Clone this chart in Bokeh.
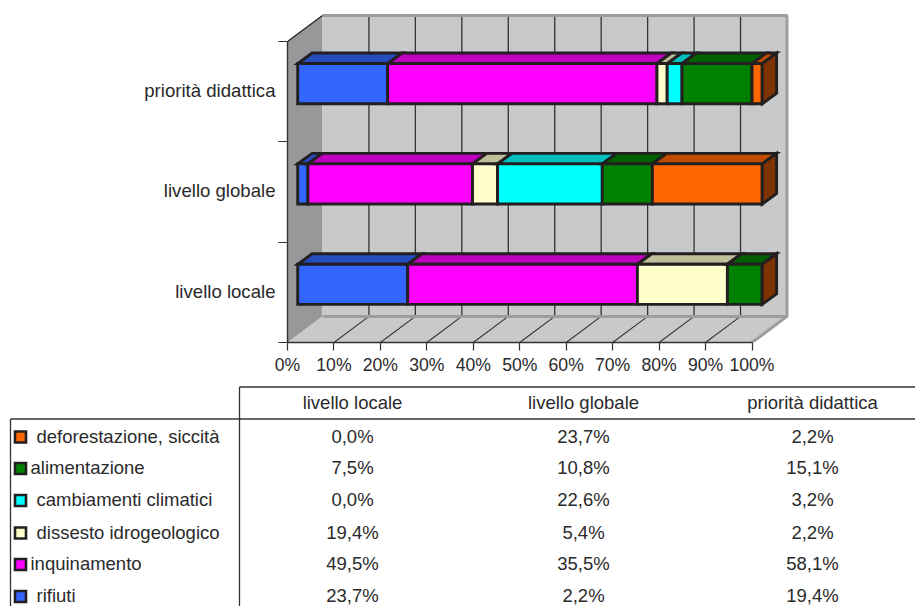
from bokeh.embed import file_html
from bokeh.resources import INLINE
from bokeh.layouts import column
from bokeh.models import FixedTicker, Range1d
from bokeh.plotting import figure
from bokeh.core.properties import value

# Survey shares per theme, in percent
groups = ["livello locale", "livello globale", "priorità didattica"]
rifiuti = [23.7, 2.2, 19.4]
inquinamento = [49.5, 35.5, 58.1]
dissesto = [19.4, 5.4, 2.2]
cambiamenti = [0.0, 22.6, 3.2]
alimentazione = [7.5, 10.8, 15.1]
deforestazione = [0.0, 23.7, 2.2]

# Stacking order of the bars, left to right
themes = ["rifiuti", "inquinamento", "dissesto idrogeologico",
          "cambiamenti climatici", "alimentazione", "deforestazione, siccità"]
series = [rifiuti, inquinamento, dissesto, cambiamenti, alimentazione, deforestazione]
front_colors = ["#3366FF", "#FF00FF", "#FFFFCC", "#00FFFF", "#008000", "#FF6600"]
top_colors = ["#264DBF", "#BF00BF", "#BFBF99", "#00BFBF", "#006000", "#BF4C00"]
side_color = "#7F3300"

x_ticks = list(range(0, 101, 10))
x_labels = {t: f"{t}%" for t in x_ticks}

FONT = "Liberation Sans"
INK = "#2A2A2A"
EDGE = "#231F20"
WALL = "#C8C9CB"
WALL_DARK = "#97989A"
WALL_EDGE = "#9C9D9F"
BAR_LINE = 2.9

# Oblique projection, in data units of the chart
WALL_DX, WALL_DY = 7.53, 0.26
BAR_SHIFT_X, BAR_SHIFT_Y = 2.2, 0.08
BAR_DX, BAR_DY = 3.1, 0.105
BAR_HALF = 0.2

PX_X = 464.5 / 100
PX_Y = 301 / 3

p = figure(width=915, height=380, output_backend="svg", toolbar_location=None,
           x_range=Range1d(0, 628 / PX_X), y_range=Range1d(0, 342 / PX_Y),
           min_border_left=287, min_border_right=0, min_border_top=0, min_border_bottom=38,
           outline_line_color=None, background_fill_color="white", border_fill_color="white",
           frame_align=False)
p.grid.visible = False

# Walls and floor of the box
n = len(groups)
p.patch([0, WALL_DX, WALL_DX, 0], [0, WALL_DY, n + WALL_DY, n], fill_color=WALL_DARK, line_color=None)
p.patch([WALL_DX, 100 + WALL_DX, 100 + WALL_DX, WALL_DX],
        [WALL_DY, WALL_DY, n + WALL_DY, n + WALL_DY], fill_color=WALL, line_color=None)
p.patch([0, 100, 100 + WALL_DX, WALL_DX], [0, 0, WALL_DY, WALL_DY], fill_color=WALL, line_color=None)

inner = [t for t in x_ticks if 0 < t < 100]
p.multi_line([[t + WALL_DX, t + WALL_DX] for t in inner],
             [[WALL_DY, n + WALL_DY] for _ in inner], line_color="#333333", line_width=1.3)
p.multi_line([[t, t + WALL_DX] for t in inner],
             [[0, WALL_DY] for _ in inner], line_color="#333333", line_width=1.1)
p.line([100, 100 + WALL_DX, 100 + WALL_DX, WALL_DX],
       [0, WALL_DY, n + WALL_DY, n + WALL_DY], line_color=WALL_EDGE, line_width=3)
p.line([WALL_DX, 100 + WALL_DX], [WALL_DY, WALL_DY], line_color=WALL_EDGE, line_width=3)
p.line([0, WALL_DX], [n, n + WALL_DY], line_color=EDGE, line_width=1.2)

# Stacked boxes, each row normalised to its own total
for g in range(n):
    total = sum(s[g] for s in series)
    y0 = g + 0.5 + BAR_SHIFT_Y - BAR_HALF
    y1 = g + 0.5 + BAR_SHIFT_Y + BAR_HALF
    start = 0.0
    for s, front, top in zip(series, front_colors, top_colors):
        end = start + s[g] / total * 100
        x0, x1 = start + BAR_SHIFT_X, end + BAR_SHIFT_X
        p.patch([x0, x1, x1 + BAR_DX, x0 + BAR_DX], [y1, y1, y1 + BAR_DY, y1 + BAR_DY],
                fill_color=top, line_color=EDGE, line_width=BAR_LINE, line_join="miter")
        p.patch([x0, x1, x1, x0], [y0, y0, y1, y1],
                fill_color=front, line_color=EDGE, line_width=BAR_LINE, line_join="miter")
        start = end
    xe = start + BAR_SHIFT_X
    p.patch([xe, xe + BAR_DX, xe + BAR_DX, xe], [y0, y0 + BAR_DY, y1 + BAR_DY, y1],
            fill_color=side_color, line_color=EDGE, line_width=BAR_LINE, line_join="miter")

xa = p.xaxis[0]
xa.bounds = (0, 100)
xa.ticker = FixedTicker(ticks=x_ticks)
xa.major_label_overrides = x_labels
xa.major_tick_in = 0
xa.major_tick_out = 8
xa.minor_tick_line_color = None
xa.axis_line_color = "#333333"
xa.axis_line_width = 1.4
xa.major_tick_line_color = "#333333"
xa.major_tick_line_width = 1.2
xa.major_label_text_font = FONT
xa.major_label_text_font_size = "17.6px"
xa.major_label_text_color = INK
xa.major_label_standoff = 4

ya = p.yaxis[0]
ya.bounds = (0, n)
centres = [i + 0.51 for i in range(n)]
ya.ticker = FixedTicker(ticks=centres, minor_ticks=list(range(n + 1)))
ya.major_label_overrides = {c: g for c, g in zip(centres, groups)}
ya.major_tick_in = 0
ya.major_tick_out = 0
ya.minor_tick_in = 0
ya.minor_tick_out = 9
ya.minor_tick_line_color = "#333333"
ya.minor_tick_line_width = 1.2
ya.axis_line_color = "#333333"
ya.axis_line_width = 1.4
ya.major_label_text_font = FONT
ya.major_label_text_font_size = "18.6px"
ya.major_label_text_color = INK
ya.major_label_standoff = 3

# Data table under the chart, listed from the last stacked theme to the first
t = figure(width=915, height=226, output_backend="svg", toolbar_location=None,
           x_range=Range1d(0, 915), y_range=Range1d(606, 380),
           min_border_left=0, min_border_right=0, min_border_top=0, min_border_bottom=0,
           outline_line_color=None, background_fill_color="white", border_fill_color="white",
           frame_align=False)
t.grid.visible = False
t.axis.visible = False

table_order = list(range(len(series) - 1, -1, -1))
row_y = [436.5, 468, 500, 532.5, 564, 596]
col_x = [352, 583, 812]
label_x = [36, 30, 36, 36, 30, 36]
TABLE_SIZE = "18.5px"
TEXT_LIFT = 1

for x0, y0, x1, y1 in [(239, 386.5, 915, 386.5), (10, 418.5, 915, 418.5),
                       (239, 386.5, 239, 606), (10, 418.5, 10, 606)]:
    t.line([x0, x1], [y0, y1], line_color="#333333", line_width=1.3)

t.text(col_x, [403 - TEXT_LIFT] * 3, text=groups, text_align="center", text_baseline="middle",
       text_font=value(FONT), text_font_size=TABLE_SIZE, text_color=INK)
for y, lx, idx in zip(row_y, label_x, table_order):
    t.rect([20], [y], width=11, height=11, fill_color=front_colors[idx],
           line_color=EDGE, line_width=2.6, line_join="miter")
    t.text([lx], [y - TEXT_LIFT], text=[themes[idx]], text_align="left", text_baseline="middle",
           text_font=value(FONT), text_font_size=TABLE_SIZE, text_color=INK)
    t.text(col_x, [y - TEXT_LIFT] * 3, text=[f"{v:.1f}%".replace(".", ",") for v in series[idx]],
           text_align="center", text_baseline="middle",
           text_font=value(FONT), text_font_size=TABLE_SIZE, text_color=INK)

page = column(p, t, spacing=0)
open("out.html", "w").write(file_html(page, INLINE))
